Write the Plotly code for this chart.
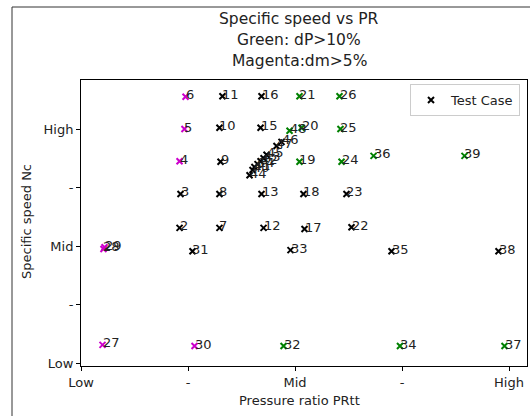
import plotly.graph_objects as go

# ---- data ----
x_tick_vals = [0, 1, 2, 3, 4]
x_tick_text = ["Low", "-", "Mid", "-", "High"]
y_tick_vals = [0, 1, 2, 3, 4]
y_tick_text = ["Low", "-", "Mid", "-", "High"]

case_ids = ["2", "3", "4", "5", "6", "7", "8", "9", "10", "11",
            "12", "13", "14", "15", "16", "17", "18", "19", "20", "21",
            "22", "23", "24", "25", "26", "27", "28", "29", "30", "31",
            "32", "33", "34", "35", "36", "37", "38", "39", "40", "41",
            "42", "43", "44", "45", "46", "47", "48"]
pr_vals = [0.921, 0.930, 0.921, 0.967, 0.977, 1.294, 1.294, 1.304, 1.294, 1.322,
           1.706, 1.687, 1.650, 1.678, 1.687, 2.089, 2.079, 2.042, 2.061, 2.042,
           2.528, 2.481, 2.435, 2.425, 2.416, 0.201, 0.210, 0.220, 1.061, 1.042,
           1.893, 1.958, 2.981, 2.902, 2.734, 3.958, 3.902, 3.584, 1.603, 1.621,
           1.678, 1.706, 1.575, 1.734, 1.874, 1.827, 1.949]
nc_vals = [2.31, 2.89, 3.45, 4.00, 4.55, 2.31, 2.89, 3.44, 4.02, 4.56,
           2.31, 2.89, 3.40, 4.02, 4.56, 2.29, 2.89, 3.44, 4.02, 4.56,
           2.32, 2.89, 3.44, 4.00, 4.56, 0.31, 1.95, 1.98, 0.29, 1.91,
           0.29, 1.93, 0.29, 1.91, 3.54, 0.29, 1.91, 3.54, 3.30, 3.35,
           3.45, 3.50, 3.21, 3.56, 3.78, 3.71, 3.97]
# flag: "k" normal, "g" dP>10%, "m" dm>5%
flags = ["k", "k", "m", "m", "m", "k", "k", "k", "k", "k",
         "k", "k", "k", "k", "k", "k", "k", "g", "g", "g",
         "k", "k", "g", "g", "g", "m", "m", "m", "m", "k",
         "g", "k", "g", "k", "g", "g", "k", "g", "k", "k",
         "k", "k", "k", "k", "k", "k", "g"]

title_lines = ["Specific speed vs PR", "Green: dP>10%", "Magenta:dm>5%"]
x_label = "Pressure ratio PRtt"
y_label = "Specific speed Nc"

# ---- figure ----
FONT = "DejaVu Sans"
TXT = "#222222"
colors = {"k": "black", "g": "green", "m": "#cc00cc"}

fig = go.Figure()
for key, name, show in [("k", "Test Case", True), ("g", "dP>10%", False), ("m", "dm>5%", False)]:
    xs = [x for x, f in zip(pr_vals, flags) if f == key]
    ys = [y for y, f in zip(nc_vals, flags) if f == key]
    fig.add_trace(go.Scatter(
        x=xs, y=ys, mode="markers", name=name, showlegend=show,
        marker=dict(symbol="x-thin", size=6, color=colors[key],
                    line=dict(color=colors[key], width=2)),
    ))

annotations = []
for lab, x, y in zip(case_ids, pr_vals, nc_vals):
    annotations.append(dict(x=x, y=y, xref="x", yref="y", text=lab, showarrow=False,
                            xanchor="left", yanchor="middle", xshift=-2, yshift=2,
                            font=dict(family=FONT, size=13, color=TXT)))

H = 286.0
W = 446.0
def py(px):
    return 1 + (80 - px) / H
def pxp(px):
    return (px - 81) / W

for line, ypx in zip(title_lines, [19, 40, 61]):
    annotations.append(dict(x=pxp(299), y=py(ypx), xref="paper", yref="paper", text=line,
                            showarrow=False, xanchor="center", yanchor="middle",
                            font=dict(family=FONT, size=15.5, color=TXT)))
annotations.append(dict(x=pxp(299), y=py(400), xref="paper", yref="paper", text=x_label,
                        showarrow=False, xanchor="center", yanchor="middle",
                        font=dict(family=FONT, size=13, color=TXT)))
annotations.append(dict(x=pxp(26), y=py(222), xref="paper", yref="paper", text=y_label,
                        showarrow=False, xanchor="center", yanchor="middle", textangle=-90,
                        font=dict(family=FONT, size=13, color=TXT)))

fig.update_layout(
    width=530, height=416,
    margin=dict(l=81, r=3, t=80, b=50),
    paper_bgcolor="white", plot_bgcolor="white",
    font=dict(family=FONT, size=13, color=TXT),
    annotations=annotations,
    showlegend=True,
    legend=dict(x=pxp(520), y=py(84), xanchor="right", yanchor="top",
                bgcolor="white", bordercolor="#cccccc", borderwidth=1,
                font=dict(family=FONT, size=13, color=TXT)),
    shapes=[dict(type="rect", xref="paper", yref="paper",
                 x0=pxp(12), x1=pxp(540), y0=py(430), y1=py(7),
                 line=dict(color="#333333", width=1), layer="below")],
)
fig.update_xaxes(range=[0, W / 107.0], tickvals=x_tick_vals, ticktext=x_tick_text,
                 showgrid=False, zeroline=False, showline=True, linecolor="black",
                 linewidth=1, mirror=True, ticks="outside", ticklen=4, tickcolor="black",
                 tickfont=dict(family=FONT, size=13, color=TXT))
fig.update_yaxes(range=[-3 / 58.5, 283 / 58.5], tickvals=y_tick_vals, ticktext=y_tick_text,
                 showgrid=False, zeroline=False, showline=True, linecolor="black",
                 linewidth=1, mirror=True, ticks="outside", ticklen=4, tickcolor="black",
                 tickfont=dict(family=FONT, size=13, color=TXT))

fig.write_html("out.html")
